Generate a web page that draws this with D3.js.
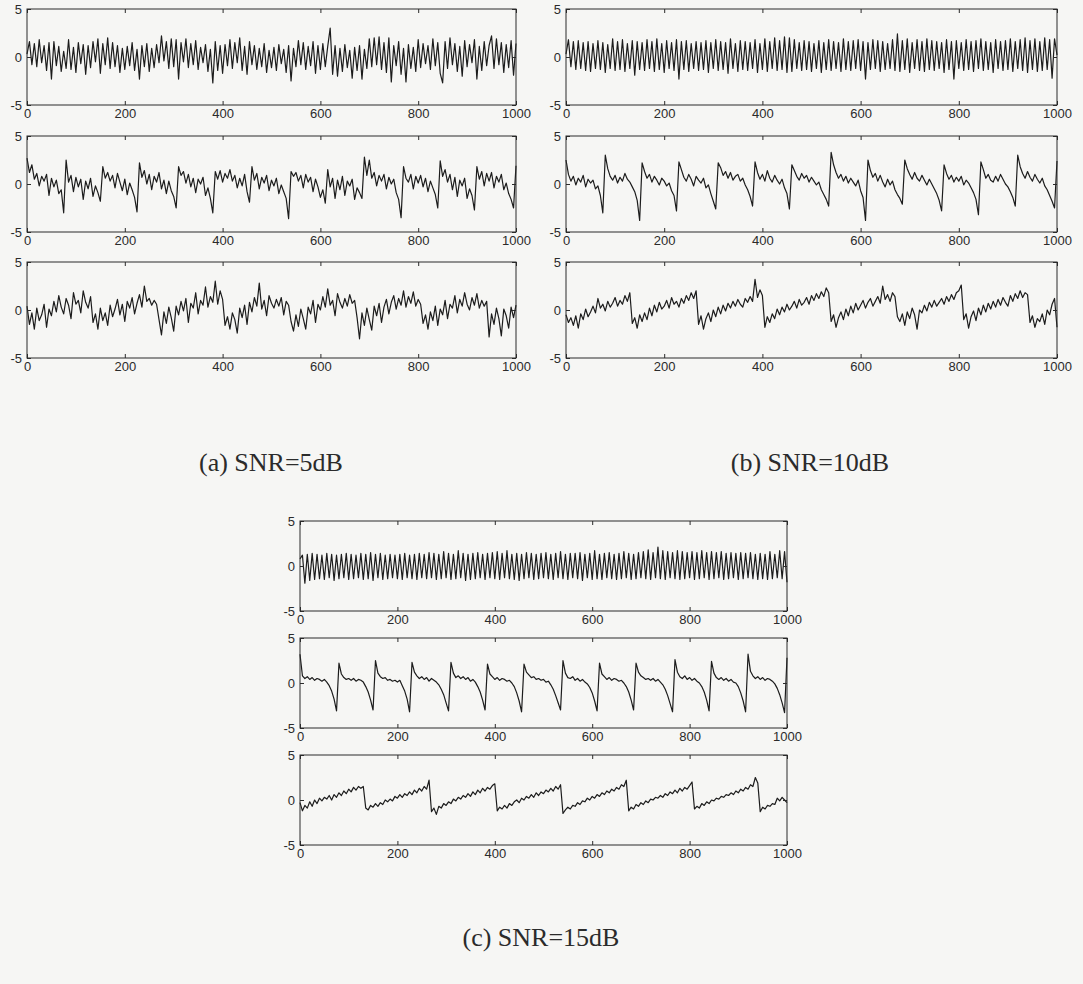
<!DOCTYPE html>
<html>
<head>
<meta charset="utf-8">
<script src="https://cdn.jsdelivr.net/npm/d3@7"></script>
<style>
body { margin: 0; background: #f6f6f4; }
svg { display: block; }
</style>
</head>
<body>
<div id="chart"></div>
<script>
const width = 1083
const height = 984
const ink = "#2b2b2b"
const step = 5 // one stored value every 5 samples, index 0..1000

const xTicks = [0, 200, 400, 600, 800, 1000]
const yTicks = [-5, 0, 5]
const captions = ["(a) SNR=5dB", "(b) SNR=10dB", "(c) SNR=15dB"]

// ---- SNR = 5dB ----
const snr5Periodic = [
    0.3, 1.6, -0.8, 1.4, -1.0, 1.8, -0.6, 1.2, -1.4, 1.5, -2.3, 1.6, -0.9, 1.1, -1.5, 0.6, -1.2, 1.8, -1.3, 1.0,
    -1.6, 1.5, -0.7, 1.3, -1.8, 1.2, -1.1, 1.6, -0.5, 1.9, -1.7, 1.4, -0.8, 2.0, -1.2, 1.5, -1.0, 1.2, -1.6, 0.9,
    -1.3, 1.1, -0.9, 1.5, -1.4, 0.8, -2.3, 1.2, -1.0, 1.4, -1.5, 0.9, -1.1, 1.3, -0.6, 2.2, -0.4, 1.6, -1.2, 1.9,
    -1.0, 1.8, -2.3, 1.5, -0.5, 1.9, -1.1, 1.4, -0.8, 1.7, -1.3, 1.0, -0.6, 1.3, -1.5, 0.8, -2.7, 1.6, -1.4, 1.2,
    -1.7, 1.3, -0.9, 1.8, -1.2, 1.5, -0.6, 2.0, -1.4, 1.1, -1.8, 1.6, -0.8, 1.2, -1.3, 0.9, -1.0, 1.4, -1.6, 0.7,
    -1.1, 1.0, -1.4, 1.3, -0.7, 0.8, -1.6, 1.2, -2.5, 0.9, -1.0, 1.7, -0.8, 1.5, -1.3, 1.1, -0.9, 1.6, -1.7, 1.2,
    -1.3, 1.4, -1.0, 1.1, 3.0, -1.8, 1.2, -2.0, 0.9, -1.5, 1.3, -1.1, 0.7, -2.2, 1.0, -1.4, 1.2, -2.3, 0.8, -1.2,
    1.9, -1.0, 2.0, -0.8, 2.1, -1.3, 1.5, -1.6, 2.0, -2.6, 1.2, -0.9, 1.6, -1.8, 0.9, -2.6, 1.3, -1.2, 1.0, -1.5,
    1.8, -1.1, 1.4, -0.7, 1.2, -1.3, 1.9, -0.9, 1.5, -1.7, -2.7, 1.6, -1.2, 2.0, -0.8, 1.4, -1.5, 1.1, -2.0, 1.7,
    -1.0, 1.3, -0.6, 1.8, -2.3, 1.1, -1.4, 1.6, -0.9, 1.2, 2.2, -1.2, 1.9, -0.8, 1.5, -1.6, 1.3, -1.1, 1.7, -1.9,
    1.4
]
const snr5Spiky = [
    2.7, 1.2, 2.0, 0.5, 1.1, -0.2, 0.8, 0.3, 1.0, -1.2, 0.6, -0.3, 0.4, -1.0, -0.6, -3.0,
    2.5, 0.2, 0.9, -0.8, 0.7, -0.3, 0.5, -1.6, 0.3, -0.5, 0.6, -1.3, -0.2, -0.9, -1.8,
    1.8, 0.6, 1.2, 0.3, 0.9, -0.4, 1.1, 0.2, -0.7, 0.5, -1.1, 0.1, -0.6, -1.4, -2.9,
    2.2, 0.7, 1.4, 0.0, 1.0, -0.6, 0.8, 0.2, 1.2, -0.5, 0.4, -1.0, 0.3, -0.7, -1.3, -2.5,
    1.8, 0.9, 1.3, 0.1, 1.0, -0.3, 0.6, -0.9, 0.5, 0.0, 0.7, -1.2, -0.4, -1.5, -3.0,
    1.3, 0.5, 1.4, 0.2, 1.1, 0.6, 1.5, 0.3, 0.9, -0.4, 0.6, -0.2, 1.0, -0.8, -1.9,
    1.8, 0.4, 1.1, -0.5, 0.7, 0.1, 0.9, -0.7, 0.4, -0.2, 0.6, -1.0, -0.1, -0.8, -1.5, -3.6,
    1.3, 0.8, 1.2, 0.3, 0.9, -0.4, 1.0, 0.2, 0.7, -0.8, 0.5, -0.3, -1.4, -0.6, -2.0,
    1.5, -0.3, 0.6, -1.5, 0.4, -0.6, 0.8, -1.2, 0.3, -0.2, 0.5, -1.6, -0.4, -0.9, -1.5,
    2.8, 0.9, 2.5, 0.6, 1.2, -0.2, 0.9, 0.3, 1.0, -0.5, 0.7, 0.0, 0.5, -0.9, -1.6, -3.5,
    1.8, 0.6, 0.2, 1.0, -0.5, 0.8, 0.1, 0.9, -0.3, 0.6, -0.8, 0.3, -0.4, -1.1, -2.5,
    2.4, 0.8, 1.5, 0.2, 1.0, -0.6, 0.7, -1.3, 0.4, -0.2, 0.6, -1.5, -0.5, -1.2, -2.7,
    1.8, 0.5, 1.3, -0.2, 1.1, 0.3, 1.2, -0.4, 0.8, 0.2, 1.0, -0.6, 0.1, -1.0, -1.6, -2.5,
    1.9
]
const snr5Sawtooth = [
    0.4, -1.5, -0.3, -2.0, 0.2, -1.1, -0.5, 0.6, -1.8, 0.1, -0.6, 0.9, -0.2, 1.5, 0.3, -0.4, 1.2, 0.5, -0.9, 1.8, 0.6, 1.0, -0.3, 2.0, 0.8, 0.2, 1.4,
    -1.3, -0.4, -2.0, 0.2, -1.1, -0.3, -1.6, 0.5, -0.7, 0.1, 1.1, -0.5, 0.6, -1.2, 0.9, 0.2, 1.3, -0.4, 0.7, 1.6, 0.3, 2.5, 0.9, 1.2, 0.5, 1.0, 0.6,
    -1.0, -2.6, -0.2, -1.4, 0.3, -0.8, -2.2, 0.4, -0.5, 0.9, -0.1, 1.2, -1.3, 0.7, 0.2, 1.8, -0.4, 1.0, 0.5, 2.4, 0.3, 1.4, 0.8, 3.0, 0.6, 2.0, 1.1,
    -1.6, -0.7, -2.0, -0.3, -1.0, -2.4, 0.2, -0.8, 0.5, -1.5, 0.8, -0.2, 1.3, 0.4, 2.8, 0.1, 1.0, -0.6, 1.5, 0.7, 0.2, 1.1, 0.4, 1.3, -0.5, 0.9, 0.5,
    -1.2, -2.2, -0.5, -1.7, 0.1, -0.9, -2.0, 0.3, -0.4, 1.0, -1.3, 0.6, 0.0, 1.4, 0.3, 2.2, 0.5, 1.0, -0.6, 1.7, 0.8, 0.2, 1.2, 0.4, 1.6, 0.7, 1.0,
    -0.8, -3.0, -0.3, -1.6, 0.2, -1.0, -2.1, 0.4, -0.6, 0.7, -1.3, 0.3, 1.1, -0.4, 0.8, 1.5, 0.1, 1.2, 0.5, 2.0, 0.3, 1.4, 0.7, 1.9, 0.4, 1.1, 0.6,
    -1.4, -0.5, -2.0, -0.2, -1.1, 0.4, -1.6, 0.1, -0.5, 1.0, -0.9, 0.6, 0.2, 1.5, -0.3, 1.1, 0.4, 1.8, 0.6, 0.0, 1.3, 0.5, 1.7, 0.2, 1.0, 0.4, 0.9,
    -2.8, -0.4, -1.5, 0.2, -0.9, -2.7, 0.1, -0.6, -1.9, 0.3, -0.8, 0.5
]

// ---- SNR = 10dB ----
const snr10Periodic = [
    0.3, 1.8, -1.0, 1.6, -1.3, 1.7, -1.2, 1.5, -1.4, 1.6, -1.5, 1.4, -1.2, 1.7, -1.3, 1.5, -1.6, 1.3, -1.2, 1.9,
    -1.4, 1.6, -1.3, 1.8, -1.5, 1.4, -1.2, 1.7, -1.9, 1.6, -1.3, 1.5, -1.4, 1.8, -1.2, 1.6, -1.5, 1.9, -1.3, 1.4,
    -1.6, 1.7, -1.2, 1.5, -1.4, 1.8, -2.3, 1.6, -1.3, 1.7, -1.5, 1.4, -1.2, 1.6, -1.4, 1.5, -1.3, 1.7, -1.6, 1.5,
    -1.2, 1.8, -1.4, 1.6, -1.3, 1.5, -1.7, 1.9, -1.2, 1.4, -1.5, 1.7, -1.3, 1.6, -1.4, 1.5, -1.2, 1.8, -1.6, 1.4,
    -1.3, 1.9, -1.5, 1.6, -1.2, 2.0, -1.4, 1.7, -1.3, 2.1, -1.6, 2.0, -1.5, 1.8, -1.2, 1.5, -1.4, 1.7, -1.3, 1.6,
    -1.5, 1.4, -1.2, 1.7, -1.6, 1.5, -1.3, 1.8, -1.4, 1.6, -1.2, 1.5, -1.5, 1.9, -1.3, 1.6, -1.4, 1.7, -1.2, 1.8,
    -1.4, 1.6, -2.3, 1.5, -1.3, 1.8, -1.2, 1.7, -1.5, 1.6, -1.3, 1.4, -1.2, 1.8, -1.4, 2.4, -1.5, 1.7, -1.3, 1.9,
    -1.6, 1.5, -1.2, 1.8, -1.4, 1.6, -1.5, 1.9, -1.3, 1.7, -1.4, 1.6, -1.2, 1.5, -1.6, 1.8, -1.3, 1.6, -2.3, 1.7,
    -1.2, 1.5, -1.4, 1.8, -1.3, 1.6, -1.5, 1.7, -1.2, 1.9, -1.4, 1.6, -1.3, 1.5, -1.6, 1.8, -1.2, 1.6, -1.4, 1.7,
    -1.3, 1.9, -1.5, 1.6, -1.2, 1.8, -1.4, 2.0, -1.6, 1.7, -1.3, 1.9, -1.5, 1.6, -1.4, 2.0, -1.3, 1.8, -2.2, 1.9,
    0.2
]
const snr10Spiky = [
    2.5, 1.0, 0.3, 0.8, -0.1, 0.6, 0.2, 0.9, -0.3, 0.5, 0.1, 0.4, -0.5, -0.2, -1.2, -3.0,
    3.0, 1.6, 0.8, 0.4, 0.9, 0.1, 0.7, 0.3, 1.1, 0.5, 0.2, -0.3, -0.8, -1.7, -3.8,
    2.2, 1.3, 0.6, 1.0, 0.2, 0.8, 0.4, -0.1, 0.6, 0.3, -0.2, 0.1, -0.7, -1.2, -2.8,
    2.3, 1.5, 0.7, 0.3, 1.0, 0.5, -0.2, 0.8, 0.4, 0.1, 0.6, -0.4, -0.1, -1.0, -1.8, -2.6,
    2.2, 1.7, 0.9, 1.3, 0.6, 1.2, 0.4, 0.8, 1.0, 0.3, 0.6, -0.1, -0.6, -1.3, -2.3,
    2.3, 1.2, 0.5, 1.0, 0.3, 1.4, 0.6, 0.2, 0.9, 0.4, 0.0, 0.5, -0.4, -1.0, -2.6,
    2.0, 1.4, 0.8, 0.4, 1.1, 0.6, 0.9, 0.2, 0.7, 0.3, -0.1, 0.2, -0.6, -1.1, -1.6, -2.3,
    3.3, 2.0, 1.2, 0.6, 1.0, 0.3, 0.8, 0.1, 0.6, 0.2, -0.2, 0.4, -0.7, -1.4, -3.8,
    2.5, 1.4, 0.7, 1.1, 0.3, 0.9, 0.2, -0.3, 0.5, -0.1, 0.3, -0.6, -1.1, -1.5, -2.1,
    2.5, 1.6, 1.0, 0.5, 1.2, 0.6, 0.3, 0.9, 0.4, -0.1, 0.5, 0.0, -0.5, -1.0, -1.7, -2.8,
    2.0, 1.1, 0.5, 0.9, 0.2, 0.7, 0.3, 0.8, -0.1, 0.4, 0.1, -0.4, -0.9, -1.6, -3.2,
    2.3, 1.5, 0.6, 1.0, 0.4, 0.2, 0.8, 0.3, 1.0, 0.5, 0.0, -0.3, -0.8, -1.4, -2.3,
    3.0, 1.8, 1.1, 0.6, 1.3, 0.7, 0.3, 1.0, 0.5, 0.1, 0.6, -0.2, -0.6, -1.2, -1.8, -2.5,
    2.4
]
const snr10Sawtooth = [
    -0.5, -1.3, -0.8, -1.6, -0.6, -1.9, -0.4, -1.0, 0.1, -0.7, -0.2, 0.4, -0.3, 1.2, 0.2, 0.6, -0.1, 0.9, 0.3, 0.7, 1.3, 0.4, 1.0, 0.6, 1.5, 0.9, 1.8,
    -1.4, -0.8, -1.9, -0.5, -1.2, -0.3, -1.0, 0.2, -0.6, 0.5, -0.2, 0.8, 0.1, 0.4, 1.0, 0.2, 1.3, 0.6, 0.9, 0.3, 1.2, 0.7, 1.5, 1.0, 1.8, 1.2, 2.0,
    -1.5, -0.6, -2.0, -0.9, -0.3, -1.2, 0.0, -0.7, 0.3, -0.4, 0.5, -0.1, 0.7, 0.2, 0.9, 0.4, 1.1, 0.6, 0.3, 1.2, 0.8, 1.4, 0.9, 3.2, 1.3, 2.1, 1.5,
    -1.8, -0.7, -1.3, -0.4, -0.9, 0.1, -0.5, 0.3, -0.2, 0.6, 0.0, 0.4, 0.9, 0.2, 1.1, 0.5, 0.8, 1.3, 0.6, 1.5, 1.0, 1.7, 1.2, 1.9, 1.4, 2.3, 1.8,
    -1.2, -0.5, -1.8, -0.8, -0.2, -1.0, 0.1, -0.6, 0.4, -0.3, 0.7, 0.0, 0.5, 1.0, 0.2, 0.8, 1.2, 0.4, 0.9, 1.4, 0.7, 2.5, 1.1, 1.6, 0.9, 1.8, 1.4,
    -0.7, -1.2, -0.4, -1.6, -0.2, -0.9, 0.2, -0.5, -2.0, 0.0, -0.3, 0.5, -0.1, 0.8, 0.3, 1.0, 0.4, 0.8, 1.2, 0.6, 1.4, 0.9, 1.6, 1.1, 1.8, 2.0, 2.6,
    -1.0, -0.4, -1.9, -0.7, -0.1, -1.1, 0.2, -0.5, 0.5, -0.2, 0.7, 0.1, 0.9, 0.3, 1.1, 0.5, 1.3, 0.8, 0.4, 1.5, 0.9, 1.7, 1.2, 2.0, 1.3, 1.8, 1.6,
    -1.3, -0.6, -1.8, -0.9, -1.2, -0.4, -1.5, 0.0, -0.5, 0.6, 1.2, -1.8
]

// ---- SNR = 15dB ----
const snr15Periodic = [
    0.8, 1.2, -1.9, 1.3, -1.6, 1.4, -1.5, 1.3, -1.4, 1.2, -1.5, 1.4, -1.3, 1.3, -1.6, 1.2, -1.4, 1.3, -1.3, 1.4,
    -1.5, 1.3, -1.4, 1.2, -1.3, 1.4, -1.5, 1.3, -1.4, 1.5, -1.6, 1.3, -1.3, 1.4, -1.5, 1.2, -1.4, 1.3, -1.3, 1.2,
    -1.4, 1.3, -1.5, 1.4, -1.3, 1.2, -1.4, 1.3, -1.5, 1.4, -1.3, 1.3, -1.4, 1.5, -1.3, 1.4, -1.5, 1.3, -1.4, 1.6,
    -1.3, 1.4, -1.5, 1.3, -1.4, 1.7, -1.3, 1.4, -1.6, 1.3, -1.5, 1.4, -1.4, 1.5, -1.3, 1.3, -1.5, 1.4, -1.3, 1.5,
    -1.4, 1.6, -1.5, 1.4, -1.3, 1.7, -1.4, 1.3, -1.5, 1.4, -1.6, 1.3, -1.4, 1.5, -1.3, 1.4, -1.5, 1.3, -1.4, 1.4,
    -1.3, 1.5, -1.4, 1.3, -1.5, 1.4, -1.3, 1.6, -1.4, 1.3, -1.5, 1.4, -1.3, 1.4, -1.4, 1.5, -1.6, 1.3, -1.3, 1.4,
    -1.5, 1.7, -1.4, 1.3, -1.5, 1.4, -1.3, 1.5, -1.4, 1.3, -1.5, 1.4, -1.4, 1.6, -1.3, 1.4, -1.5, 1.3, -1.4, 1.5,
    -1.3, 1.6, -1.4, 1.8, -1.5, 1.5, -1.3, 2.1, -1.4, 1.7, -1.5, 1.6, -1.3, 1.5, -1.4, 1.7, -1.5, 1.6, -1.4, 1.5,
    -1.3, 1.6, -1.5, 1.5, -1.4, 1.7, -1.3, 1.5, -1.5, 1.6, -1.4, 1.5, -1.3, 1.6, -1.5, 1.4, -1.4, 1.5, -1.3, 1.4,
    -1.5, 1.5, -1.4, 1.4, -1.3, 1.5, -1.4, 1.3, -1.5, 1.4, -1.4, 1.3, -1.5, 1.6, -1.4, 1.3, -1.3, 1.7, -1.4, 1.6,
    -1.8
]
const snr15Spiky = [
    3.2, 0.8, 0.5, 0.7, 0.4, 0.6, 0.3, 0.5, 0.4, 0.2, 0.4, 0.1, -0.3, -0.9, -1.8, -3.1,
    2.2, 1.0, 0.6, 0.4, 0.5, 0.3, 0.5, 0.2, 0.4, 0.3, 0.1, -0.4, -1.0, -1.9, -3.0,
    2.5, 1.1, 0.7, 0.5, 0.6, 0.3, 0.4, 0.2, 0.3, 0.1, 0.3, -0.3, -0.9, -1.8, -3.2,
    2.3, 1.2, 0.8, 0.5, 0.7, 0.4, 0.6, 0.2, 0.5, 0.3, 0.1, -0.2, -0.7, -1.3, -2.2, -3.1,
    2.3, 1.1, 0.6, 0.8, 0.5, 0.7, 0.4, 0.6, 0.2, 0.4, 0.1, -0.4, -1.0, -1.9, -3.0,
    2.1, 1.0, 0.7, 0.4, 0.6, 0.3, 0.5, 0.4, 0.2, 0.3, 0.0, -0.4, -1.1, -2.0, -3.2,
    2.1, 1.2, 0.9, 0.6, 0.7, 0.4, 0.5, 0.3, 0.4, 0.1, 0.2, -0.2, -0.7, -1.4, -2.2, -3.0,
    2.5, 1.1, 0.6, 0.5, 0.7, 0.3, 0.5, 0.2, 0.4, 0.1, -0.1, -0.5, -1.1, -2.0, -3.1,
    2.2, 1.0, 0.7, 0.4, 0.6, 0.3, 0.5, 0.4, 0.2, 0.3, 0.0, -0.4, -1.0, -1.9, -3.0,
    2.2, 1.2, 0.8, 0.6, 0.4, 0.5, 0.3, 0.5, 0.2, 0.4, 0.1, -0.2, -0.7, -1.4, -2.3, -3.2,
    2.6, 1.2, 0.7, 0.5, 0.8, 0.4, 0.6, 0.3, 0.5, 0.2, 0.0, -0.4, -1.0, -1.9, -3.1,
    2.4, 1.1, 0.6, 0.4, 0.6, 0.3, 0.5, 0.2, 0.4, 0.1, 0.0, -0.4, -1.1, -2.0, -3.2,
    3.2, 1.3, 0.8, 0.5, 0.7, 0.4, 0.6, 0.3, 0.5, 0.4, 0.2, -0.1, -0.6, -1.3, -2.2, -3.3,
    2.8
]
const snr15Sawtooth = [
    -0.3, -1.2, -0.6, -0.9, -0.2, -0.7, 0.0, -0.4, 0.2, -0.1, 0.3, 0.1, 0.5, 0.0, 0.6, 0.3, 0.8, 0.5, 1.0, 0.7, 1.2, 0.9, 1.4, 1.1, 1.5, 1.3, 1.5,
    -0.9, -1.1, -0.6, -0.8, -0.4, -0.7, -0.3, -0.5, 0.0, -0.2, 0.1, -0.1, 0.4, 0.2, 0.6, 0.3, 0.7, 0.5, 0.9, 0.6, 1.1, 0.8, 1.3, 1.0, 1.5, 1.2, 2.2,
    -1.3, -0.9, -1.6, -0.7, -0.9, -0.4, -0.6, -0.2, -0.4, 0.1, -0.1, 0.3, 0.1, 0.5, 0.3, 0.7, 0.4, 0.9, 0.6, 1.1, 0.8, 1.3, 1.0, 1.4, 1.2, 1.6, 1.8,
    -1.2, -0.8, -1.0, -0.6, -0.9, -0.4, -0.6, -0.2, 0.0, -0.3, 0.2, 0.0, 0.4, 0.2, 0.6, 0.3, 0.8, 0.5, 0.9, 0.7, 1.1, 0.9, 1.3, 1.0, 1.5, 1.2, 1.7,
    -1.5, -1.1, -0.8, -1.0, -0.6, -0.7, -0.3, -0.5, -0.1, -0.2, 0.2, 0.0, 0.4, 0.2, 0.6, 0.4, 0.8, 0.6, 1.0, 0.8, 1.2, 1.0, 1.4, 1.2, 1.7, 1.5, 2.2,
    -1.2, -0.8, -1.0, -0.5, -0.7, -0.3, -0.5, -0.1, -0.3, 0.1, 0.0, 0.3, 0.2, 0.5, 0.3, 0.7, 0.5, 0.9, 0.7, 1.1, 0.8, 1.3, 1.0, 1.4, 1.2, 1.6, 2.0,
    -1.0, -0.7, -0.9, -0.4, -0.6, -0.2, -0.4, 0.0, -0.1, 0.2, 0.1, 0.4, 0.3, 0.6, 0.5, 0.8, 0.6, 1.0, 0.8, 1.2, 1.0, 1.4, 1.2, 1.7, 1.5, 2.5, 1.9,
    -1.3, -0.8, -1.0, -0.6, -0.7, -0.4, -0.5, 0.2, -0.1, 0.3, 0.0, -0.3
]

// panel placement: three stacked boxes per SNR group
const groups = [
    { caption: captions[0], left: 27, tops: [9, 136, 262], w: 489, h: 96, series: [snr5Periodic, snr5Spiky, snr5Sawtooth], capX: 271, capY: 465 },
    { caption: captions[1], left: 566, tops: [9, 136, 262], w: 491, h: 96, series: [snr10Periodic, snr10Spiky, snr10Sawtooth], capX: 810, capY: 465 },
    { caption: captions[2], left: 300, tops: [521, 638, 755], w: 487, h: 90, series: [snr15Periodic, snr15Spiky, snr15Sawtooth], capX: 541, capY: 940 }
]

const svg = d3.select("#chart").append("svg").attr("width", width).attr("height", height)
svg.append("rect").attr("width", width).attr("height", height).attr("fill", "#f6f6f4")

groups.forEach(gr => {
    gr.series.forEach((values, k) => drawPanel(values, gr.left, gr.tops[k], gr.w, gr.h))
    svg.append("text")
        .attr("x", gr.capX)
        .attr("y", gr.capY)
        .attr("text-anchor", "middle")
        .attr("dominant-baseline", "middle")
        .attr("font-family", "'Liberation Serif', 'DejaVu Serif', serif")
        .attr("font-size", 26)
        .attr("fill", ink)
        .text(gr.caption)
})

function drawPanel(values, left, top, w, h) {
    const g = svg.append("g").attr("transform", `translate(${left},${top})`)
    const x = d3.scaleLinear().domain([0, 1000]).range([0, w])
    const y = d3.scaleLinear().domain([-5, 5]).range([h, 0])

    const line = d3.line()
        .x((d, i) => x(i * step))
        .y(d => y(d))
    g.append("path")
        .datum(values)
        .attr("d", line)
        .attr("fill", "none")
        .attr("stroke", "#1c1c1c")
        .attr("stroke-width", 1.2)
        .attr("stroke-linejoin", "round")

    const fmt = d => String(d)
    const bottom = g.append("g").attr("transform", `translate(0,${h})`)
        .call(d3.axisBottom(x).tickValues(xTicks).tickSize(-4).tickPadding(4).tickFormat(fmt))
    const topAxis = g.append("g")
        .call(d3.axisTop(x).tickValues(xTicks).tickSize(-4).tickFormat(""))
    const leftAxis = g.append("g")
        .call(d3.axisLeft(y).tickValues(yTicks).tickSize(-4).tickPadding(5).tickFormat(fmt))
    const rightAxis = g.append("g").attr("transform", `translate(${w},0)`)
        .call(d3.axisRight(y).tickValues(yTicks).tickSize(-4).tickFormat(""))

    ;[bottom, topAxis, leftAxis, rightAxis].forEach(a => {
        a.select(".domain").remove()
        a.selectAll("line").attr("stroke", ink)
        a.selectAll("text")
            .attr("fill", ink)
            .attr("font-family", "'Liberation Sans', Arial, sans-serif")
            .attr("font-size", 13)
    })

    g.append("rect")
        .attr("width", w)
        .attr("height", h)
        .attr("fill", "none")
        .attr("stroke", ink)
        .attr("stroke-width", 1)
}
</script>
</body>
</html>
